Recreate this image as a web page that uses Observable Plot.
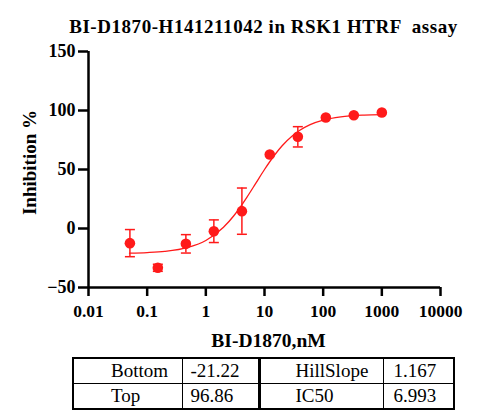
<!DOCTYPE html>
<html>
<head>
<meta charset="utf-8">
<script src="https://cdn.jsdelivr.net/npm/d3@7"></script>
<script src="https://cdn.jsdelivr.net/npm/@observablehq/plot@0.6"></script>
<style>
  html, body { margin: 0; padding: 0; background: #fff; }
  #wrap { position: relative; width: 500px; height: 420px; font-family: "Liberation Serif", "DejaVu Serif", serif; }
  #title { position: absolute; left: 0; width: 527px; top: 16px; line-height: 22px; text-align: center; font-weight: bold; font-size: 19px; letter-spacing: 0.55px; white-space: pre; font-family: "Liberation Serif", "DejaVu Serif", serif; }
  #chart { position: absolute; left: 0; top: 0; }
  table { position: absolute; left: 72px; top: 357px; border-collapse: collapse; font-size: 19px; font-family: "Liberation Serif", "DejaVu Serif", serif; }
  td { border: 1px solid #000; height: 25px; padding: 0; line-height: 24px; }
  tr:first-child td { border-top: 2.5px solid #000; }
  tr:last-child td { border-bottom: 2.5px solid #000; }
  td:first-child { border-left: 2.5px solid #000; }
  td:last-child { border-right: 2.5px solid #000; }
  td.c2 { border-right: 3px solid #000; }
</style>
</head>
<body>
<div id="wrap">
  <div id="chart"></div>
  <div id="title"></div>
  <table id="tbl"></table>
</div>
<script>
const titleText = "BI-D1870-H141211042 in RSK1 HTRF  assay";
const xLabel = "BI-D1870,nM";
const yLabel = "Inhibition %";
const xTicks = [0.01, 0.1, 1, 10, 100, 1000, 10000];
const yTicks = [-50, 0, 50, 100, 150];

// measured points
const dose = [0.0508, 0.152, 0.457, 1.37, 4.12, 12.3, 37.0, 111, 333, 1000];
const inhibition = [-12.4, -33.3, -13.0, -2.3, 14.7, 62.7, 77.7, 94.1, 96.0, 98.3];
const errorBar = [11.5, 3.0, 7.8, 9.6, 19.6, 0, 8.6, 0, 0, 0];

// fitted curve
const curveX = [0.05, 0.1, 0.2, 0.5, 1, 2, 3, 4, 5, 7, 10, 15, 20, 30, 40, 60, 100, 200, 500, 1000];
const curveY = [-20.9, -20.4, -19.4, -16.0, -10.2, 1.0, 10.8, 19.2, 26.4, 37.8, 50.0, 62.5, 70.1, 78.6, 83.2, 88.0, 91.8, 94.6, 96.1, 96.5];

// parameter table
const tableRows = [
  ["Bottom", "-21.22", "HillSlope", "1.167"],
  ["Top", "96.86", "IC50", "6.993"]
];

const red = "#ff1a1a";
const points = dose.map((d, i) => ({x: d, y: inhibition[i], lo: inhibition[i] - errorBar[i], hi: inhibition[i] + errorBar[i], e: errorBar[i]}));
const bars = points.filter(p => p.e > 0);
const curve = curveX.map((x, i) => ({x, y: curveY[i]}));

const capSymbol = {
  draw(context, size) {
    const r = 5;
    context.moveTo(-r, 0);
    context.lineTo(r, 0);
  }
};

const serif = "'Liberation Serif', 'DejaVu Serif', serif";

const plot = Plot.plot({
  width: 500,
  height: 350,
  marginLeft: 88,
  marginRight: 60,
  marginTop: 51,
  marginBottom: 63,
  style: { fontFamily: serif, fontWeight: "bold", fontSize: "17.5px", color: "#000", background: "transparent" },
  x: { type: "log", domain: [0.01, 10000], ticks: xTicks, tickFormat: d => String(d) },
  y: { domain: [-50, 150], ticks: yTicks },
  marks: [
    Plot.axisX({ ticks: xTicks, tickFormat: d => String(d), tickSize: 9, tickPadding: 8, strokeWidth: 2.5, fontSize: 17.5, fontWeight: "bold", fontFamily: serif, label: null }),
    Plot.axisY({ ticks: yTicks, tickSize: 10, tickPadding: 3, strokeWidth: 2.5, fontSize: 18, fontWeight: "bold", fontFamily: serif, label: null }),
    Plot.ruleX([0.01], { y1: -50, y2: 150, strokeWidth: 2.5, stroke: "#000" }),
    Plot.ruleY([-50], { x1: 0.01, x2: 10000, strokeWidth: 2.5, stroke: "#000" }),
    Plot.line(curve, { x: "x", y: "y", stroke: red, strokeWidth: 1.3, curve: "monotone-x" }),
    Plot.ruleX(bars, { x: "x", y1: "lo", y2: "hi", stroke: red, strokeWidth: 1.5 }),
    Plot.dot(bars, { x: "x", y: "lo", symbol: capSymbol, stroke: red, strokeWidth: 1.5, fill: "none" }),
    Plot.dot(bars, { x: "x", y: "hi", symbol: capSymbol, stroke: red, strokeWidth: 1.5, fill: "none" }),
    Plot.dot(points, { x: "x", y: "y", r: 5.3, fill: red, stroke: "none" }),
    Plot.text([yLabel], { frameAnchor: "left", textAnchor: "middle", lineAnchor: "middle", dx: -58.5, dy: -7, rotate: -90, fontSize: 19, fontWeight: "bold", fontFamily: serif, fill: "#000" }),
    Plot.text([xLabel], { frameAnchor: "bottom", textAnchor: "middle", lineAnchor: "middle", dy: 53, dx: 4, fontSize: 19.5, fontWeight: "bold", fontFamily: serif, fill: "#000" })
  ]
});
document.getElementById("chart").appendChild(plot);
document.getElementById("title").textContent = titleText;

const widths = [109, 77, 124, 71];
const pads = [37, 8, 35, 10];
const tbl = document.getElementById("tbl");
tableRows.forEach(row => {
  const tr = document.createElement("tr");
  row.forEach((cell, j) => {
    const td = document.createElement("td");
    td.textContent = cell;
    td.style.width = (widths[j]) + "px";
    td.style.paddingLeft = pads[j] + "px";
    td.style.boxSizing = "border-box";
    if (j === 1) td.className = "c2";
    tr.appendChild(td);
  });
  tbl.appendChild(tr);
});
</script>
</body>
</html>
